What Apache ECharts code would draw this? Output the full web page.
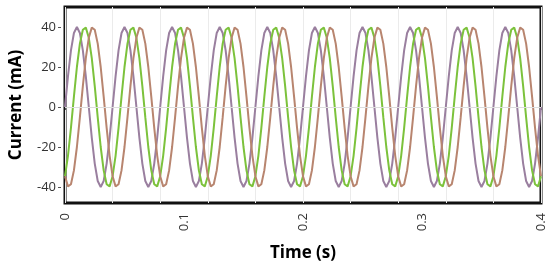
<!DOCTYPE html>
<html>
<head>
<meta charset="utf-8">
<script src="https://cdn.jsdelivr.net/npm/echarts@6/dist/echarts.min.js"></script>
<style>
  html, body { margin: 0; padding: 0; background: #fff; }
  #chart { width: 550px; height: 274px; }
</style>
</head>
<body>
<div id="chart"></div>
<script>
// time samples (s)
var times = [
  0, 0.0025, 0.005, 0.0075, 0.01, 0.0125, 0.015, 0.0175, 0.02, 0.0225, 0.025, 0.0275, 0.03, 0.0325, 0.035, 0.0375,
  0.04, 0.0425, 0.045, 0.0475, 0.05, 0.0525, 0.055, 0.0575, 0.06, 0.0625, 0.065, 0.0675, 0.07, 0.0725, 0.075, 0.0775,
  0.08, 0.0825, 0.085, 0.0875, 0.09, 0.0925, 0.095, 0.0975, 0.1, 0.1025, 0.105, 0.1075, 0.11, 0.1125, 0.115, 0.1175,
  0.12, 0.1225, 0.125, 0.1275, 0.13, 0.1325, 0.135, 0.1375, 0.14, 0.1425, 0.145, 0.1475, 0.15, 0.1525, 0.155, 0.1575,
  0.16, 0.1625, 0.165, 0.1675, 0.17, 0.1725, 0.175, 0.1775, 0.18, 0.1825, 0.185, 0.1875, 0.19, 0.1925, 0.195, 0.1975,
  0.2, 0.2025, 0.205, 0.2075, 0.21, 0.2125, 0.215, 0.2175, 0.22, 0.2225, 0.225, 0.2275, 0.23, 0.2325, 0.235, 0.2375,
  0.24, 0.2425, 0.245, 0.2475, 0.25, 0.2525, 0.255, 0.2575, 0.26, 0.2625, 0.265, 0.2675, 0.27, 0.2725, 0.275, 0.2775,
  0.28, 0.2825, 0.285, 0.2875, 0.29, 0.2925, 0.295, 0.2975, 0.3, 0.3025, 0.305, 0.3075, 0.31, 0.3125, 0.315, 0.3175,
  0.32, 0.3225, 0.325, 0.3275, 0.33, 0.3325, 0.335, 0.3375, 0.34, 0.3425, 0.345, 0.3475, 0.35, 0.3525, 0.355, 0.3575,
  0.36, 0.3625, 0.365, 0.3675, 0.37, 0.3725, 0.375, 0.3775, 0.38, 0.3825, 0.385, 0.3875, 0.39, 0.3925, 0.395, 0.3975,
  0.4
];

// current (mA)
var purple = [
  0, 15.3, 28.3, 37, 40, 37, 28.3, 15.3, 0, -15.3, -28.3, -37, -40, -37, -28.3, -15.3,
  0, 15.3, 28.3, 37, 40, 37, 28.3, 15.3, 0, -15.3, -28.3, -37, -40, -37, -28.3, -15.3,
  0, 15.3, 28.3, 37, 40, 37, 28.3, 15.3, 0, -15.3, -28.3, -37, -40, -37, -28.3, -15.3,
  0, 15.3, 28.3, 37, 40, 37, 28.3, 15.3, 0, -15.3, -28.3, -37, -40, -37, -28.3, -15.3,
  0, 15.3, 28.3, 37, 40, 37, 28.3, 15.3, 0, -15.3, -28.3, -37, -40, -37, -28.3, -15.3,
  0, 15.3, 28.3, 37, 40, 37, 28.3, 15.3, 0, -15.3, -28.3, -37, -40, -37, -28.3, -15.3,
  0, 15.3, 28.3, 37, 40, 37, 28.3, 15.3, 0, -15.3, -28.3, -37, -40, -37, -28.3, -15.3,
  0, 15.3, 28.3, 37, 40, 37, 28.3, 15.3, 0, -15.3, -28.3, -37, -40, -37, -28.3, -15.3,
  0, 15.3, 28.3, 37, 40, 37, 28.3, 15.3, 0, -15.3, -28.3, -37, -40, -37, -28.3, -15.3,
  0, 15.3, 28.3, 37, 40, 37, 28.3, 15.3, 0, -15.3, -28.3, -37, -40, -37, -28.3, -15.3,
  0
];
var green = [
  -34.6, -24.4, -10.4, 5.2, 20, 31.7, 38.6, 39.7, 34.6, 24.4, 10.4, -5.2, -20, -31.7, -38.6, -39.7,
  -34.6, -24.4, -10.4, 5.2, 20, 31.7, 38.6, 39.7, 34.6, 24.4, 10.4, -5.2, -20, -31.7, -38.6, -39.7,
  -34.6, -24.4, -10.4, 5.2, 20, 31.7, 38.6, 39.7, 34.6, 24.4, 10.4, -5.2, -20, -31.7, -38.6, -39.7,
  -34.6, -24.4, -10.4, 5.2, 20, 31.7, 38.6, 39.7, 34.6, 24.4, 10.4, -5.2, -20, -31.7, -38.6, -39.7,
  -34.6, -24.4, -10.4, 5.2, 20, 31.7, 38.6, 39.7, 34.6, 24.4, 10.4, -5.2, -20, -31.7, -38.6, -39.7,
  -34.6, -24.4, -10.4, 5.2, 20, 31.7, 38.6, 39.7, 34.6, 24.4, 10.4, -5.2, -20, -31.7, -38.6, -39.7,
  -34.6, -24.4, -10.4, 5.2, 20, 31.7, 38.6, 39.7, 34.6, 24.4, 10.4, -5.2, -20, -31.7, -38.6, -39.7,
  -34.6, -24.4, -10.4, 5.2, 20, 31.7, 38.6, 39.7, 34.6, 24.4, 10.4, -5.2, -20, -31.7, -38.6, -39.7,
  -34.6, -24.4, -10.4, 5.2, 20, 31.7, 38.6, 39.7, 34.6, 24.4, 10.4, -5.2, -20, -31.7, -38.6, -39.7,
  -34.6, -24.4, -10.4, 5.2, 20, 31.7, 38.6, 39.7, 34.6, 24.4, 10.4, -5.2, -20, -31.7, -38.6, -39.7,
  -34.6
];
var brown = [
  -34.6, -39.7, -38.6, -31.7, -20, -5.2, 10.4, 24.4, 34.6, 39.7, 38.6, 31.7, 20, 5.2, -10.4, -24.4,
  -34.6, -39.7, -38.6, -31.7, -20, -5.2, 10.4, 24.4, 34.6, 39.7, 38.6, 31.7, 20, 5.2, -10.4, -24.4,
  -34.6, -39.7, -38.6, -31.7, -20, -5.2, 10.4, 24.4, 34.6, 39.7, 38.6, 31.7, 20, 5.2, -10.4, -24.4,
  -34.6, -39.7, -38.6, -31.7, -20, -5.2, 10.4, 24.4, 34.6, 39.7, 38.6, 31.7, 20, 5.2, -10.4, -24.4,
  -34.6, -39.7, -38.6, -31.7, -20, -5.2, 10.4, 24.4, 34.6, 39.7, 38.6, 31.7, 20, 5.2, -10.4, -24.4,
  -34.6, -39.7, -38.6, -31.7, -20, -5.2, 10.4, 24.4, 34.6, 39.7, 38.6, 31.7, 20, 5.2, -10.4, -24.4,
  -34.6, -39.7, -38.6, -31.7, -20, -5.2, 10.4, 24.4, 34.6, 39.7, 38.6, 31.7, 20, 5.2, -10.4, -24.4,
  -34.6, -39.7, -38.6, -31.7, -20, -5.2, 10.4, 24.4, 34.6, 39.7, 38.6, 31.7, 20, 5.2, -10.4, -24.4,
  -34.6, -39.7, -38.6, -31.7, -20, -5.2, 10.4, 24.4, 34.6, 39.7, 38.6, 31.7, 20, 5.2, -10.4, -24.4,
  -34.6, -39.7, -38.6, -31.7, -20, -5.2, 10.4, 24.4, 34.6, 39.7, 38.6, 31.7, 20, 5.2, -10.4, -24.4,
  -34.6
];
var yTicks = [-40, -20, 0, 20, 40];

var chart = echarts.init(document.getElementById('chart'));
var font = '"Open Sans", sans-serif';

function wave(data, color) {
  return {
    type: 'line',
    data: data,
    smooth: false,
    showSymbol: false,
    lineStyle: { color: color, width: 2 },
    itemStyle: { color: color },
    animation: false
  };
}

var option = {
  animation: false,
  grid: {
    show: true,
    left: 64, right: 9, top: 7, bottom: 71,
    borderColor: '#111',
    borderWidth: 3
  },
  xAxis: {
    type: 'category',
    data: times,
    boundaryGap: false,
    offset: 4,
    name: 'Time (s)',
    nameLocation: 'middle',
    nameGap: 38,
    nameTextStyle: { fontFamily: font, fontWeight: 'bold', fontSize: 17, color: '#000' },
    axisLine: { show: false },
    axisTick: { show: true, interval: 39, length: 3, lineStyle: { color: '#555' } },
    axisLabel: { interval: 39, rotate: 90, margin: 6, fontFamily: font, fontSize: 13, color: '#333' },
    splitLine: { show: true, interval: 15, lineStyle: { color: '#ebebeb', width: 1 } }
  },
  yAxis: {
    type: 'value',
    min: -48,
    max: 50,
    offset: 4,
    name: 'Current (mA)',
    nameLocation: 'middle',
    nameGap: 36,
    nameTextStyle: { fontFamily: font, fontWeight: 'bold', fontSize: 17, color: '#000' },
    axisLine: { show: false },
    axisTick: { show: true, length: 3, customValues: yTicks, lineStyle: { color: '#555' } },
    axisLabel: { margin: 5, customValues: yTicks, fontFamily: font, fontSize: 13, color: '#333' },
    splitLine: { show: false }
  },
  series: [
    Object.assign(wave(purple, '#9a7f9f'), {
      markLine: {
        silent: true,
        symbol: 'none',
        label: { show: false },
        lineStyle: { color: '#ddd', type: 'solid', width: 1 },
        data: [{ yAxis: 0 }]
      }
    }),
    wave(green, '#7cc23c'),
    wave(brown, '#b8856f')
  ]
};

chart.setOption(option);
</script>
</body>
</html>
